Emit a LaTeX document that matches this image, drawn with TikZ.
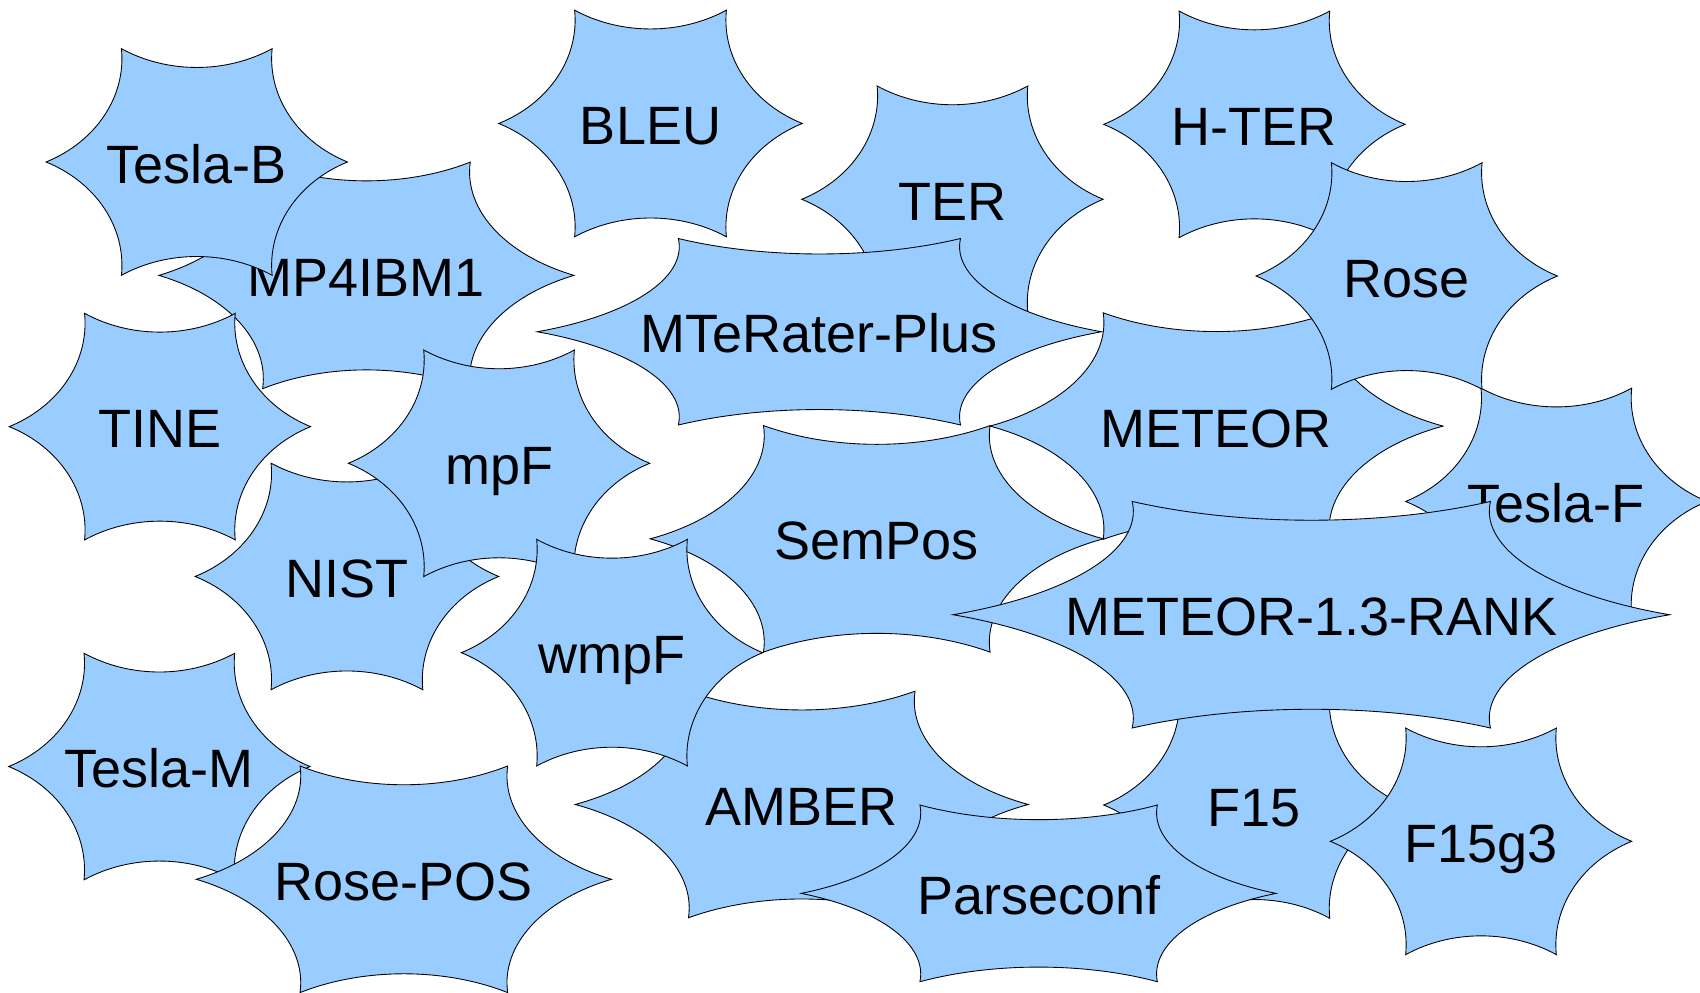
\documentclass[tikz,border=0pt]{standalone}
\usepackage{fontspec}
\setmainfont{Liberation Sans}
\definecolor{starblue}{HTML}{99CCFF}
\tikzset{
  starfill/.style={fill=starblue, draw=black, line width=0.8pt, line join=miter},
  lbl/.style={anchor=base, inner sep=0pt, font=\fontsize{49.8}{58}\selectfont, text=black}
}
\newcommand\cstar[6]{%
  \begin{scope}[shift={(#2,#3)}, xscale=#4/2, yscale=#5/2]
    \path[starfill] (-1,0)
      .. controls (-0.669,0.179) and (-0.468,0.578) .. (-0.5,1)
      .. controls (-0.195,0.779) and (0.195,0.779) .. (0.5,1)
      .. controls (0.468,0.578) and (0.669,0.179) .. (1,0)
      .. controls (0.669,-0.179) and (0.468,-0.578) .. (0.5,-1)
      .. controls (0.195,-0.779) and (-0.195,-0.779) .. (-0.5,-1)
      .. controls (-0.468,-0.578) and (-0.669,-0.179) .. (-1,0) -- cycle;
  \end{scope}
  \node[lbl] (#1) at (#2,#3+19.5) {#6};%
}
\begin{document}
\begin{tikzpicture}[x=1pt,y=-1pt]
\useasboundingbox (0,0) rectangle (1568,915);
\clip (0,0) rectangle (1568,915);
\cstar{mpibm}{338}{254}{383}{209}{MP4IBM1}
\cstar{teslab}{181.5}{149.4}{278}{209}{Tesla-B}
\cstar{tine}{147.5}{393.5}{278}{209}{TINE}
\cstar{nist}{320}{531.7}{280}{209}{NIST}
\cstar{mpf}{460.3}{427.3}{278}{209}{mpF}
\cstar{bleu}{600}{113.9}{280}{209}{BLEU}
\cstar{ter}{878.5}{183.8}{278}{209}{TER}
\cstar{mterater}{755.8}{306}{520.5}{172}{MTeRater-Plus}
\cstar{hter}{1157}{114.7}{278}{209}{H-TER}
\cstar{meteor}{1122}{393}{418}{209}{METEOR}
\cstar{rose}{1297.5}{254.6}{278}{209}{Rose}
\cstar{teslaf}{1435.5}{462.5}{278}{209}{Tesla-F}
\cstar{sempos}{808.7}{497}{418}{209}{SemPos}
\cstar{amber}{739.5}{742}{418}{209}{AMBER}
\cstar{wmpf}{564.5}{602}{278}{209}{wmpF}
\cstar{ffifteen}{1157}{742.5}{278}{209}{F15}
\cstar{rank}{1209.5}{567}{661}{209}{METEOR-1.3-RANK}
\cstar{parseconf}{958}{824}{438}{163}{Parseconf}
\cstar{ffifteeng}{1366}{776}{278}{209}{F15g3}
\cstar{teslam}{147}{707}{278}{209}{Tesla-M}
\cstar{rosepos}{372.5}{811}{383}{209}{Rose-POS}
\end{tikzpicture}
\end{document}
